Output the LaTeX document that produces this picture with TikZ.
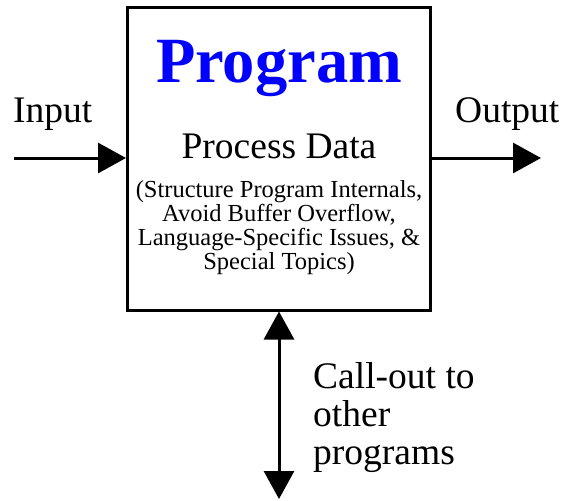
\documentclass[tikz,border=0pt]{standalone}
\usepackage{fontspec}
\setmainfont{Liberation Serif}
\usetikzlibrary{positioning,arrows.meta}
\definecolor{ProgBlue}{rgb}{0,0,1}

\tikzset{
  flow/.style={line width=3pt, -{Triangle[length=28pt,width=30pt]}},
  bigtxt/.style={inner sep=0pt, font=\fontsize{37.5}{38}\selectfont},
  smalltxt/.style={inner sep=0pt, align=center, font=\fontsize{24.5}{24}\selectfont}
}

\begin{document}
\begin{tikzpicture}[x=1pt,y=-1pt]
  \useasboundingbox (0,0) rectangle (564,500);
  % the program box
  \node[draw, line width=3pt, minimum width=303pt, minimum height=302pt, inner sep=0pt] (prog) at (279,159) {};
  \node[inner sep=0pt, anchor=base, text=ProgBlue, font=\fontsize{64.5}{64.5}\selectfont\bfseries] (title) at (279,83) {Program};
  \node[bigtxt, anchor=base] (proc) at (279,158) {Process Data};
  \node[smalltxt, anchor=north] (topics) at (279,180) {(Structure Program Internals,\\Avoid Buffer Overflow,\\Language-Specific Issues, \&\\Special Topics)};

  % input and output
  \coordinate (in) at (14,158);
  \coordinate (out) at (541,158);
  \draw[flow] (in) -- (in -| prog.west);
  \draw[flow] (out -| prog.east) -- (out);
  \node[bigtxt, anchor=base west] (inlbl) at (13,122) {Input};
  \node[bigtxt, anchor=base west] (outlbl) at (455,122) {Output};

  % call-out
  \coordinate (call) at (279,499);
  \draw[flow, {Triangle[length=28pt,width=30pt]}-{Triangle[length=28pt,width=30pt]}] (prog.south) -- (call);
  \node[bigtxt, anchor=north west, align=left] (calllbl) at (313,362) {Call-out to\\other\\programs};
\end{tikzpicture}
\end{document}
